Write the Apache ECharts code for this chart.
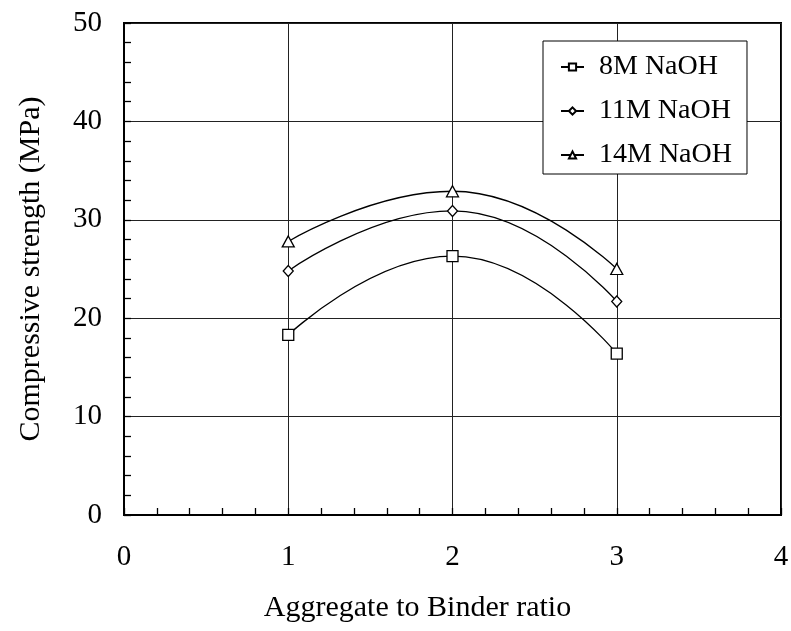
<!DOCTYPE html>
<html>
<head>
<meta charset="utf-8">
<script src="https://cdn.jsdelivr.net/npm/echarts@6/dist/echarts.min.js"></script>
<style>
  html, body { margin: 0; padding: 0; background: #fff; }
  #chart { width: 791px; height: 631px; }
</style>
</head>
<body>
<div id="chart"></div>
<script>
const ratios = [1, 2, 3];
const naoh8 = [18.3, 26.3, 16.4];
const naoh11 = [24.8, 30.9, 21.7];
const naoh14 = [27.8, 32.9, 25.0];
const seriesNames = ['8M NaOH', '11M NaOH', '14M NaOH'];
const symbols = ['rect', 'diamond', 'triangle'];
const symbolSizes = [11, [10, 11], [12, 11]];

const font = "'Liberation Serif', 'Times New Roman', serif";
const chart = echarts.init(document.getElementById('chart'));

const makeSeries = (name, values, i) => ({
  name,
  type: 'line',
  smooth: true,
  data: ratios.map((r, k) => [r, values[k]]),
  symbol: symbols[i],
  symbolSize: symbolSizes[i],
  showAllSymbol: true,
  lineStyle: { color: '#000', width: 1.3 },
  itemStyle: { color: '#fff', borderColor: '#000', borderWidth: 1.3 },
  z: 5
});

chart.setOption({
  animation: false,
  textStyle: { fontFamily: font, color: '#000' },
  grid: {
    left: 124, right: 10, top: 23, bottom: 116,
    outerBoundsMode: 'none',
    containLabel: false,
    show: true, borderColor: '#000', borderWidth: 2, backgroundColor: 'transparent'
  },
  legend: {
    data: seriesNames,
    orient: 'vertical',
    left: 543, top: 41,
    backgroundColor: '#fff',
    borderColor: '#000', borderWidth: 1,
    borderRadius: 0,
    padding: [11, 15, 4, 17],
    itemWidth: 23, itemHeight: 9, itemGap: 14,
    textStyle: { fontFamily: font, fontSize: 28, color: '#000', lineHeight: 30, padding: [0, 0, 0, 10] }
  },
  xAxis: {
    type: 'value',
    min: 0, max: 4, interval: 1,
    name: 'Aggregate to Binder ratio',
    nameLocation: 'middle', nameGap: 78,
    // title sits a little left of the plot centre in the original
    nameTextStyle: { fontFamily: font, fontSize: 30, color: '#000', padding: [0, 70, 0, 0] },
    axisLine: { lineStyle: { color: '#000', width: 2 } },
    axisTick: { show: true, inside: true, length: 7, lineStyle: { color: '#000', width: 1.3 } },
    minorTick: { show: true, splitNumber: 5, length: 7, lineStyle: { color: '#000', width: 1.3 } },
    axisLabel: { fontFamily: font, fontSize: 29, color: '#000', margin: 28 },
    splitLine: { show: true, lineStyle: { color: '#222', width: 1 } }
  },
  yAxis: {
    type: 'value',
    min: 0, max: 50, interval: 10,
    name: 'Compressive strength (MPa)',
    nameLocation: 'middle', nameGap: 78,
    nameTextStyle: { fontFamily: font, fontSize: 30, color: '#000' },
    axisLine: { lineStyle: { color: '#000', width: 2 } },
    axisTick: { show: true, inside: true, length: 7, lineStyle: { color: '#000', width: 1.3 } },
    minorTick: { show: true, splitNumber: 5, length: 7, lineStyle: { color: '#000', width: 1.3 } },
    axisLabel: { fontFamily: font, fontSize: 29, color: '#000', margin: 22 },
    splitLine: { show: true, lineStyle: { color: '#222', width: 1 } }
  },
  series: [
    makeSeries(seriesNames[0], naoh8, 0),
    makeSeries(seriesNames[1], naoh11, 1),
    makeSeries(seriesNames[2], naoh14, 2)
  ]
});

window.addEventListener('resize', () => chart.resize());
</script>
</body>
</html>
